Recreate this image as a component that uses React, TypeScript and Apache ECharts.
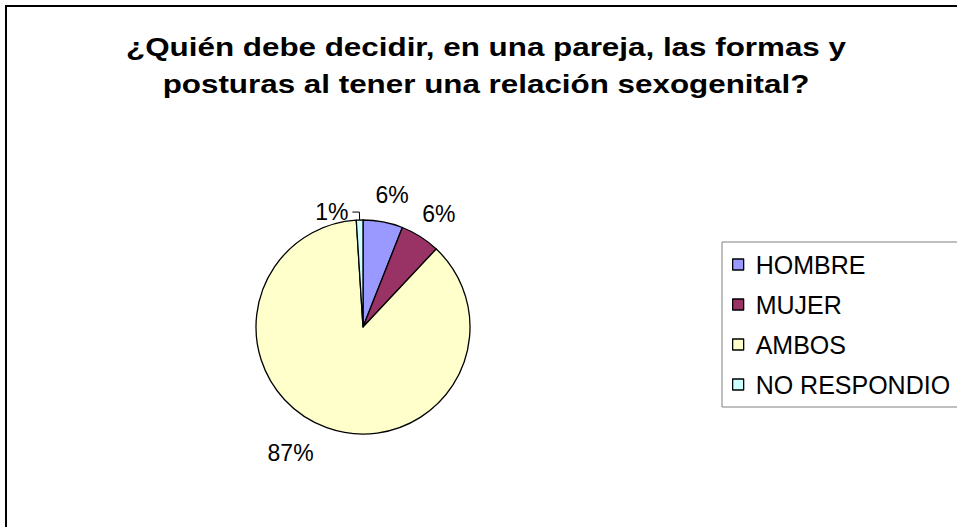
import React, { useEffect, useRef } from "react";
import * as echarts from "echarts";

const titleLines = [
  "¿Quién debe decidir, en una pareja, las formas y",
  "posturas al tener una relación sexogenital?",
];
const categories = ["HOMBRE", "MUJER", "AMBOS", "NO RESPONDIO"];
const values = [6, 6, 87, 1];
const colors = ["#9999FF", "#993366", "#FFFFCC", "#CCFFFF"];
const leaderLineCategories = ["NO RESPONDIO"];

const FONT = "'Liberation Sans', Arial, sans-serif";

export default function App() {
  const ref = useRef<HTMLDivElement>(null);

  useEffect(() => {
    if (!ref.current) return;
    const chart = echarts.init(ref.current, undefined, { renderer: "svg" });

    const data = categories.map((name, i) => {
      const item: any = {
        name,
        value: values[i],
        itemStyle: { color: colors[i] },
      };
      if (leaderLineCategories.includes(name)) {
        item.labelLine = { show: true, length: 8, length2: 7 };
      }
      return item;
    });

    chart.setOption({
      animation: false,
      backgroundColor: "#ffffff",
      graphic: [
        {
          type: "rect",
          shape: { x: 6, y: 6, width: 1000, height: 600 },
          style: { fill: "none", stroke: "#000", lineWidth: 2 },
          silent: true,
        },
        {
          type: "text",
          x: 486,
          y: 47.5,
          scaleX: 1.255,
          style: {
            text: titleLines[0],
            fontSize: 25,
            fontWeight: "bold",
            fontFamily: FONT,
            fill: "#000",
            align: "center",
            verticalAlign: "middle",
          },
        },
        {
          type: "text",
          x: 486,
          y: 84.5,
          scaleX: 1.255,
          style: {
            text: titleLines[1],
            fontSize: 25,
            fontWeight: "bold",
            fontFamily: FONT,
            fill: "#000",
            align: "center",
            verticalAlign: "middle",
          },
        },
      ],
      legend: {
        orient: "vertical",
        left: 722,
        top: 242,
        padding: [10, 30, 10, 10],
        itemGap: 15,
        itemWidth: 11,
        itemHeight: 11,
        icon: "rect",
        borderColor: "#808080",
        borderWidth: 1,
        data: categories,
        itemStyle: { borderColor: "#000", borderWidth: 1.3 },
        textStyle: {
          fontSize: 25,
          fontFamily: FONT,
          color: "#000",
          padding: [0, 0, 0, 7],
        },
      },
      series: [
        {
          type: "pie",
          center: [363, 327],
          radius: 107,
          startAngle: 90,
          clockwise: true,
          avoidLabelOverlap: false,
          percentPrecision: 0,
          itemStyle: { borderColor: "#000", borderWidth: 1.3 },
          label: {
            show: true,
            position: "outside",
            formatter: "{d}%",
            fontSize: 23,
            fontFamily: FONT,
            color: "#000",
            distanceToLabelLine: 4,
          },
          labelLine: {
            show: false,
            length: 27,
            length2: 0,
            lineStyle: { color: "#000", width: 1 },
          },
          labelLayout: (params: any) =>
            params.align === "left" ? { dx: -params.labelRect.width / 2 } : {},
          emphasis: { disabled: true },
          data,
        },
      ],
    });

    return () => chart.dispose();
  }, []);

  return (
    <div
      ref={ref}
      style={{ position: "fixed", left: 0, top: 0, width: 957, height: 527 }}
    />
  );
}
